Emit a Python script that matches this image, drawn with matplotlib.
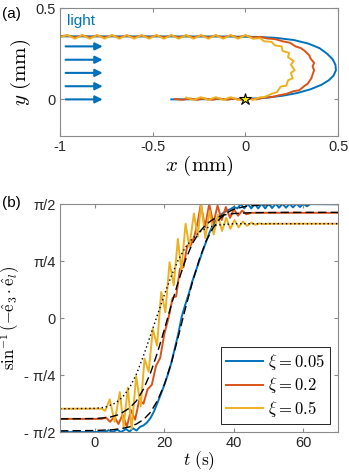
import numpy as np
import matplotlib
matplotlib.use('Agg')
import matplotlib.pyplot as plt

# ======================== Data ========================
# (a) trajectories, x and y in mm
blue_x = [-0.40, 0.00, 0.10, 0.20, 0.28, 0.35, 0.41, 0.45, 0.475, 0.488, 0.485,
          0.47, 0.44, 0.40, 0.34, 0.26, 0.16, 0.06, -0.10, -1.00]
blue_y = [0.000, 0.002, 0.008, 0.020, 0.035, 0.055, 0.080, 0.105, 0.130, 0.160, 0.190,
          0.220, 0.250, 0.280, 0.305, 0.325, 0.337, 0.342, 0.344, 0.345]

orange_x = [-0.38, -0.34, -0.30, -0.26, -0.22, -0.18, -0.14, -0.10, -0.06, -0.02, 0.02, 0.06, 0.10,
            0.14, 0.18, 0.22, 0.26, 0.29, 0.32, 0.335, 0.355, 0.36, 0.37, 0.362, 0.37, 0.35, 0.345,
            0.32, 0.30, 0.27, 0.24, 0.20, 0.16, 0.12, 0.08,
            0.04, 0.00, -0.04, -0.08, -0.12, -0.16, -0.20, -0.24, -0.28, -0.32, -0.36, -0.40, -0.44,
            -0.48, -0.52, -0.56, -0.60, -0.64, -0.68, -0.72, -0.76, -0.80, -0.84, -0.88, -0.92, -0.96, -1.00]
orange_y = [0.002, -0.002, 0.005, -0.002, 0.005, -0.002, 0.005, -0.002, 0.005, -0.002, 0.006, 0.000, 0.010,
            0.012, 0.022, 0.030, 0.045, 0.050, 0.075, 0.085, 0.115, 0.130, 0.160, 0.180, 0.200, 0.225, 0.240,
            0.265, 0.280, 0.290, 0.310, 0.318, 0.330, 0.333, 0.342,
            0.339, 0.350, 0.339, 0.350, 0.339, 0.350, 0.339, 0.350, 0.339, 0.350, 0.339, 0.350, 0.339,
            0.350, 0.339, 0.350, 0.339, 0.350, 0.339, 0.350, 0.339, 0.350, 0.339, 0.350, 0.339, 0.350, 0.345]

yellow_x = [-0.32, -0.28, -0.24, -0.20, -0.16, -0.12, -0.08, -0.04, 0.00, 0.04, 0.08,
            0.10, 0.14, 0.17, 0.19, 0.22, 0.23, 0.255, 0.245, 0.265, 0.245, 0.26, 0.23, 0.235,
            0.20, 0.195, 0.16, 0.14, 0.10, 0.08,
            0.04, 0.00, -0.04, -0.08, -0.12, -0.16, -0.20, -0.24, -0.28, -0.32, -0.36, -0.40, -0.44,
            -0.48, -0.52, -0.56, -0.60, -0.64, -0.68, -0.72, -0.76, -0.80, -0.84, -0.88, -0.92, -0.96, -1.00]
yellow_y = [0.010, -0.003, 0.012, -0.003, 0.012, -0.003, 0.012, -0.003, 0.012, -0.003, 0.012,
            0.012, 0.030, 0.040, 0.070, 0.075, 0.105, 0.115, 0.145, 0.160, 0.190, 0.210, 0.230, 0.255,
            0.265, 0.290, 0.295, 0.315, 0.318, 0.335,
            0.332, 0.352, 0.332, 0.352, 0.332, 0.352, 0.332, 0.352, 0.332, 0.352, 0.332, 0.352, 0.332,
            0.352, 0.332, 0.352, 0.332, 0.352, 0.332, 0.352, 0.332, 0.352, 0.332, 0.352, 0.332, 0.352, 0.340]

light_y = [0.0, 0.072, 0.145, 0.217, 0.29]

# (b) angle vs time, t in s, angle in rad
b_t = [-10, 3, 4, 5, 6.5, 7.5, 9, 10, 11, 12, 13, 14, 15, 16, 17, 18, 19, 20, 21, 22,
       23, 24, 25, 26, 27, 28, 29, 30, 31, 32, 33, 34, 35, 36, 37, 38, 39, 40,
       41, 42, 43, 44, 45, 46, 47, 48, 49, 50, 51, 52, 53, 54, 55, 56, 57, 58, 59, 60, 61, 62, 70]
b_v = [-1.571, -1.571, -1.545, -1.571, -1.54, -1.571, -1.53, -1.565, -1.52, -1.55, -1.50, -1.48,
       -1.44, -1.38, -1.29, -1.17, -1.05, -0.92, -0.78, -0.62,
       -0.42, -0.22, 0.02, 0.18, 0.33, 0.50, 0.64, 0.78, 0.92, 1.05, 1.18, 1.28, 1.35, 1.41, 1.45,
       1.48, 1.50, 1.53,
       1.51, 1.57, 1.51, 1.575, 1.51, 1.575, 1.51, 1.575, 1.51, 1.575, 1.515, 1.575, 1.52, 1.575,
       1.52, 1.575, 1.525, 1.575, 1.53, 1.575, 1.54, 1.57, 1.567]

o_t = [-10, 2, 3.2, 4.4, 5.6, 6.8, 8.0, 9.2, 10.4, 11.6, 12.8, 14.0, 15.2, 16.4, 17.6, 18.8,
       20.0, 21.2, 22.4, 23.4, 24.5, 25.5, 26.6, 27.6, 28.6, 29.6, 30.5, 31.7, 32.9, 34.1,
       35.3, 36.5, 37.7, 38.9, 40.0, 41.2, 42.4, 43.6, 45.0, 70]
o_v = [-1.39, -1.39, -1.37, -1.43, -1.36, -1.46, -1.33, -1.50, -1.27, -1.40, -1.13, -1.18,
       -0.98, -0.92, -0.66, -0.55, -0.22, 0.00, 0.28, 0.30, 0.68, 0.70, 1.00, 1.00, 1.12, 1.32,
       1.57, 1.25, 1.57, 1.30, 1.55, 1.35, 1.53, 1.38, 1.50, 1.41, 1.48, 1.43, 1.45, 1.45]

y_t = [-10, 2.0, 3.0, 4.3, 5.7, 7.2, 8.3, 9.5, 10.6, 11.9, 13.2, 14.3, 15.5, 16.7, 17.9,
       19.1, 20.3, 21.5, 22.7, 23.9, 24.9, 26.1, 27.2, 28.5, 29.6, 30.6, 31.8, 33.0, 34.2,
       35.4, 36.6, 37.8, 39.0, 40.2, 41.4, 42.6, 43.8, 45.0, 46.2, 47.4, 48.6, 50, 70]
y_v = [-1.25, -1.25, -1.28, -1.12, -1.43, -1.02, -1.50, -0.96, -1.53, -0.80, -1.22, -0.56,
       -0.74, -0.15, -0.38, 0.36, 0.08, 0.77, 0.45, 1.09, 0.65, 1.30, 0.98, 1.44, 1.12, 1.57,
       1.10, 1.48, 1.15, 1.42, 1.20, 1.38, 1.23, 1.35, 1.25, 1.33, 1.27, 1.315, 1.285, 1.305,
       1.295, 1.30, 1.30]

# fitted curves (black)
fit_b_t = [-10, 0, 5, 8, 10, 12, 14, 16, 18, 20, 22, 24, 26, 28, 30, 32, 34, 36, 38, 40, 44, 50, 60, 70]
fit_b_v = [-1.555, -1.55, -1.54, -1.52, -1.50, -1.46, -1.40, -1.30, -1.14, -0.92, -0.62, -0.26,
           0.12, 0.48, 0.80, 1.06, 1.24, 1.37, 1.45, 1.50, 1.545, 1.563, 1.570, 1.571]
fit_o_t = [-10, 0, 4, 7, 10, 12, 14, 16, 18, 20, 22, 24, 26, 28, 30, 32, 34, 37, 40, 45, 55, 70]
fit_o_v = [-1.39, -1.385, -1.37, -1.33, -1.24, -1.14, -0.98, -0.76, -0.48, -0.16, 0.18, 0.50,
           0.79, 1.02, 1.18, 1.29, 1.36, 1.42, 1.44, 1.452, 1.456, 1.456]
fit_y_t = [-10, 0, 3, 6, 8, 10, 12, 14, 16, 18, 20, 22, 24, 26, 28, 30, 32, 35, 40, 70]
fit_y_v = [-1.25, -1.245, -1.23, -1.17, -1.09, -0.96, -0.77, -0.52, -0.24, 0.04, 0.32, 0.58,
           0.80, 0.97, 1.09, 1.18, 1.24, 1.28, 1.30, 1.30]

xi_labels = [r'$\xi = 0.05$', r'$\xi = 0.2$', r'$\xi = 0.5$']

# ======================== Style ========================
C_BLUE = '#0072BD'
C_ORANGE = '#D95319'
C_YELLOW = '#EDB120'
SPINE = '#8a8a8a'

plt.rcParams['font.family'] = ['Liberation Sans', 'DejaVu Sans']
plt.rcParams['mathtext.fontset'] = 'cm'
plt.rcParams['axes.unicode_minus'] = False


def style_axes(ax):
    for s in ax.spines.values():
        s.set_color(SPINE)
        s.set_linewidth(0.8)
    ax.tick_params(direction='in', top=True, right=True, length=3,
                   color=SPINE, labelsize=10.5, labelcolor='#262626', pad=3)


fig = plt.figure(figsize=(3.49, 4.72), dpi=100)

# ======================== (a) ========================
ax1 = fig.add_axes([0.172, 0.712, 0.797, 0.271])
ax1.plot(blue_x, blue_y, color=C_BLUE, lw=1.4)
ax1.plot(orange_x, orange_y, color=C_ORANGE, lw=1.4)
ax1.plot(yellow_x, yellow_y, color=C_YELLOW, lw=1.4)
ax1.plot([0], [0], marker='*', ms=9, mfc='#f2f20a', mec='black', mew=0.8, ls='none')
for yy in light_y:
    ax1.annotate('', xy=(-0.77, yy), xytext=(-0.97, yy),
                 arrowprops=dict(arrowstyle='-|>', color=C_BLUE, lw=1.5,
                                 mutation_scale=11, shrinkA=0, shrinkB=0))
ax1.text(-0.965, 0.43, 'light', color=C_BLUE, fontsize=11, va='center', ha='left')
ax1.set_xlim(-1, 0.5)
ax1.set_ylim(-0.2, 0.5)
ax1.set_xticks([-1, -0.5, 0, 0.5])
ax1.set_xticklabels(['-1', '-0.5', '0', '0.5'])
ax1.set_yticks([0, 0.5])
ax1.set_yticklabels(['0', '0.5'])
style_axes(ax1)
ax1.set_xlabel(r'$x\ (\mathrm{mm})$', fontsize=15, labelpad=0)
ax1.set_ylabel(r'$y\ (\mathrm{mm})$', fontsize=15, labelpad=2)
fig.text(0.005, 0.985, '(a)', fontsize=11, va='top', ha='left')

# ======================== (b) ========================
ax2 = fig.add_axes([0.172, 0.0847, 0.797, 0.483])
ax2.plot(b_t, b_v, color=C_BLUE, lw=1.4, label=xi_labels[0])
ax2.plot(o_t, o_v, color=C_ORANGE, lw=1.4, label=xi_labels[1])
ax2.plot(y_t, y_v, color=C_YELLOW, lw=1.4, label=xi_labels[2])
ax2.plot(fit_b_t, fit_b_v, color='black', lw=1.0, ls=(0, (6, 3)))
ax2.plot(fit_o_t, fit_o_v, color='black', lw=1.0, ls=(0, (6, 3)))
ax2.plot(fit_y_t, fit_y_v, color='black', lw=1.0, ls=(0, (1, 2)))
ax2.set_xlim(-10, 70)
ax2.set_ylim(-np.pi / 2, np.pi / 2)
ax2.set_xticks([0, 20, 40, 60])
ax2.set_yticks([-np.pi / 2, -np.pi / 4, 0, np.pi / 4, np.pi / 2])
ax2.set_yticklabels(['- \u03c0/2', '- \u03c0/4', '0', '\u03c0/4', '\u03c0/2'])
style_axes(ax2)
ax2.set_xlabel(r'$t\ (\mathrm{s})$', fontsize=12.5, labelpad=-1)
ax2.set_ylabel(r'$\sin^{-1}(-\hat{\mathrm{e}}_3\cdot\hat{\mathrm{e}}_l)$', fontsize=12, labelpad=0)
ax2.yaxis.set_label_coords(-0.135, 0.5)
leg = ax2.legend(loc='lower right', fontsize=12, frameon=True, fancybox=False,
                 edgecolor='black', framealpha=1, handlelength=2.2, handletextpad=0.3,
                 borderpad=0.3, labelspacing=0.2, borderaxespad=0.5)
leg.get_frame().set_linewidth(0.6)
fig.text(0.005, 0.585, '(b)', fontsize=11, va='top', ha='left')

plt.savefig('out.png', dpi=100)
